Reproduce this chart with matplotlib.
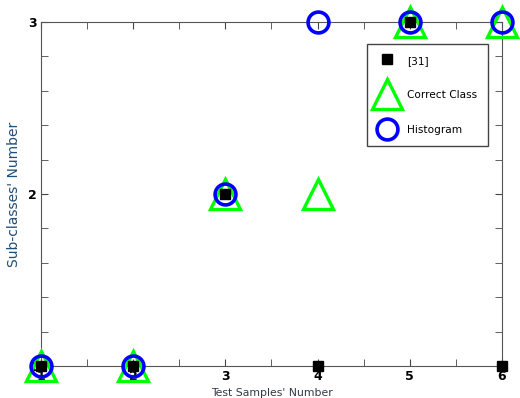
import numpy as np
import matplotlib.pyplot as plt
from matplotlib.ticker import MultipleLocator

# test samples and sub-class assignments
samples = [1, 2, 3, 4, 5, 6]
ref31 = [1, 1, 2, 1, 3, 1]
correct_class = [1, 1, 2, 2, 3, 3]
histogram = [1, 1, 2, 3, 3, 3]

fig = plt.figure(figsize=(5.2, 3.98), dpi=100)
ax = fig.add_axes([0.079, 0.0804, 0.886, 0.8646])

# plotting order: triangles below, then circles, squares on top
tri, = ax.plot(samples, correct_class, linestyle="none", marker="^",
               markersize=21, markerfacecolor="none", markeredgecolor="#00ff00",
               markeredgewidth=2.4, label="Correct Class", clip_on=False, zorder=3)
circ, = ax.plot(samples, histogram, linestyle="none", marker="o",
                markersize=15, markerfacecolor="none", markeredgecolor="#0000ff",
                markeredgewidth=2.6, label="Histogram", clip_on=False, zorder=4)
sq, = ax.plot(samples, ref31, linestyle="none", marker="s",
              markersize=7, color="black", label="[31]", clip_on=False, zorder=5)

ax.set_xlim(1, 6)
ax.set_ylim(1, 3)
ax.set_xticks(samples)
ax.set_yticks([1, 2, 3])
ax.xaxis.set_minor_locator(MultipleLocator(0.5))
ax.yaxis.set_minor_locator(MultipleLocator(0.2))
ax.tick_params(which="both", direction="in", top=True, right=True,
               color="#444444", labelsize=9, pad=3)
ax.tick_params(which="both", length=5)
for lab in ax.get_xticklabels() + ax.get_yticklabels():
    lab.set_fontweight("bold")
for sp in ax.spines.values():
    sp.set_color("#555555")

ax.set_xlabel("Test Samples' Number", fontsize=7.8, color="#333a45", labelpad=3.5)
ax.set_ylabel("Sub-classes' Number", fontsize=10, color="#1f4e79", labelpad=5)

leg = ax.legend(handles=[sq, tri, circ], loc="upper right",
                bbox_to_anchor=(0.9696, 0.936), borderaxespad=0,
                fontsize=7.6, fancybox=False,
                edgecolor="#444444", framealpha=1, borderpad=1.0,
                labelspacing=2.2, handleheight=1.3, handletextpad=1.0,
                handlelength=1.8)
leg.get_frame().set_linewidth(1)

plt.savefig("out.png", dpi=100)
